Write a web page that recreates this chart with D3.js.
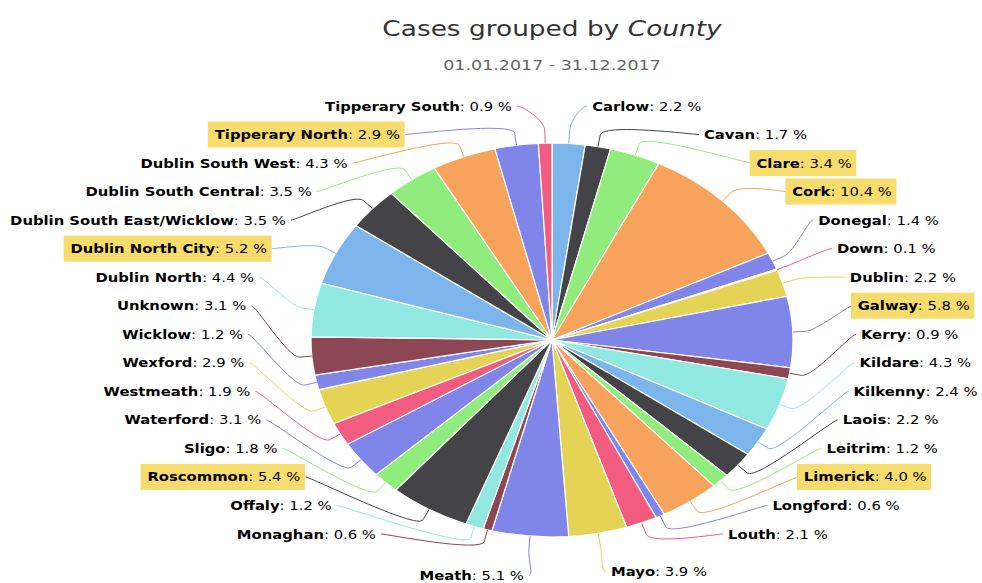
<!DOCTYPE html>
<html lang="en">
<head>
<meta charset="UTF-8">
<title>Cases grouped by County</title>
<script src="https://cdn.jsdelivr.net/npm/d3@7/dist/d3.min.js"></script>
<style>
    body { margin: 0; background: #fff; }
    text { font-family: "DejaVu Sans", Verdana, sans-serif; }
</style>
</head>
<body>
<svg width="982" height="583" id="mainsvg"></svg>
<script>
// data, clockwise from 12 o'clock
const counties = ['Carlow', 'Cavan', 'Clare', 'Cork', 'Donegal', 'Down', 'Dublin', 'Galway', 'Kerry',
    'Kildare', 'Kilkenny', 'Laois', 'Leitrim', 'Limerick', 'Longford', 'Louth', 'Mayo', 'Meath',
    'Monaghan', 'Offaly', 'Roscommon', 'Sligo', 'Waterford', 'Westmeath', 'Wexford', 'Wicklow',
    'Unknown', 'Dublin North', 'Dublin North City', 'Dublin South East/Wicklow',
    'Dublin South Central', 'Dublin South West', 'Tipperary North', 'Tipperary South'];
const shares = [2.2, 1.7, 3.4, 10.4, 1.4, 0.1, 2.2, 5.8, 0.9,
    4.3, 2.4, 2.2, 1.2, 4.0, 0.6, 2.1, 3.9, 5.1,
    0.6, 1.2, 5.4, 1.8, 3.1, 1.9, 2.9, 1.2,
    3.1, 4.4, 5.2, 3.5,
    3.5, 4.3, 2.9, 0.9];
const highlighted = ['Clare', 'Cork', 'Galway', 'Limerick', 'Roscommon', 'Dublin North City', 'Tipperary North'];

// colours
const palette = ['#7cb5ec', '#434348', '#90ed7d', '#f7a35c', '#8085e9', '#f15c80', '#e4d354', '#8085e8', '#8d4653', '#91e8e1'];
const colorIndex = [0, 1, 2, 3, 4, 5, 6, 7, 8, 9, 0, 1, 2, 3, 4, 5, 6, 7, 8, 9,
    1, 2, 4, 5, 6, 7, 8, 9, 0, 1, 2, 3, 4, 5];

const svg = d3.select('#mainsvg');
const cx = 552, cy = 340;
const rx = 241, ry = 197;          // pie is drawn as an ellipse
const labelA = 309, labelB = 236;  // ellipse the labels sit on
const rowTop = 106, rowStep = 28.53;
const stretch = 1.14;              // the text looks horizontally stretched
const fmt = d3.format('.1f');

const data = counties.map((c, i) => ({ county: c, share: shares[i], color: palette[colorIndex[i]] }));

// title
const title = svg.append('text').attr('transform', `translate(${cx}, 36) scale(1.2, 1)`)
    .attr('text-anchor', 'middle').attr('font-size', 22).attr('fill', '#333');
title.append('tspan').text('Cases grouped by ');
title.append('tspan').attr('font-style', 'italic').text('County');
svg.append('text').attr('transform', `translate(${cx}, 70) scale(1.25, 1)`).attr('text-anchor', 'middle')
    .attr('font-size', 14).attr('fill', '#666').text('01.01.2017 - 31.12.2017');

// pie
const pie = d3.pie().sort(null).value(d => d.share);
const arcs = pie(data);
const arc = d3.arc().innerRadius(0).outerRadius(rx);

const pieGroup = svg.append('g')
    .attr('transform', `translate(${cx}, ${cy}) scale(1, ${ry / rx})`);
pieGroup.selectAll('path').data(arcs).join('path')
    .attr('d', arc)
    .attr('fill', d => d.data.color)
    .attr('stroke', '#fff').attr('stroke-width', 1.2)
    .attr('vector-effect', 'non-scaling-stroke');

// label layout: rows on each side, last label keeps its natural height
const mid = d => (d.startAngle + d.endAngle) / 2;
const right = arcs.filter(d => mid(d) < Math.PI);
const left = arcs.filter(d => mid(d) >= Math.PI).reverse();

const placeSide = (list, side) => {
    list.forEach((d, i) => {
        let y = rowTop + i * rowStep;
        if (i === list.length - 1) y = Math.max(y, cy - labelB * Math.cos(mid(d)));
        const dy = Math.min(1, Math.abs(y - cy) / labelB);
        const dx = labelA * Math.sqrt(1 - dy * dy);
        d.side = side;
        d.ly = y;
        d.lx = cx + side * dx;
    });
};
placeSide(right, 1);
placeSide(left, -1);

// connectors
const connector = d => {
    const a = mid(d);
    const tx = cx + rx * Math.sin(a), ty = cy - ry * Math.cos(a);
    const bx = cx + (rx + 12) * Math.sin(a), by = cy - (ry + 12) * Math.cos(a);
    const px = d.lx - d.side * 5, py = d.ly;
    const path = d3.path();
    path.moveTo(px, py);
    path.bezierCurveTo(px - d.side * 5, py, 2 * bx - tx, 2 * by - ty, bx, by);
    path.lineTo(tx, ty);
    return path.toString();
};

svg.append('g').selectAll('path').data(arcs).join('path')
    .attr('d', connector)
    .attr('fill', 'none')
    .attr('stroke', d => d.data.color)
    .attr('stroke-width', 1);

const labelGroups = svg.append('g').selectAll('g').data(arcs).join('g')
    .attr('transform', d => `translate(${d.lx}, ${d.ly}) scale(${stretch}, 1)`);
const labels = labelGroups.append('text')
    .attr('dy', '0.35em')
    .attr('text-anchor', d => d.side > 0 ? 'start' : 'end')
    .attr('font-size', 13)
    .attr('fill', '#000');
labels.append('tspan').attr('font-weight', 'bold').text(d => d.data.county);
labels.append('tspan').text(d => `: ${fmt(d.data.share)} %`);

// yellow boxes behind the highlighted labels
labels.filter(d => highlighted.includes(d.data.county)).each(function () {
    const bb = this.getBBox();
    d3.select(this.parentNode).insert('rect', 'text')
        .attr('x', bb.x - 6).attr('y', -13)
        .attr('width', bb.width + 10).attr('height', 26)
        .attr('fill', '#f6dc6c');
});
</script>
</body>
</html>
